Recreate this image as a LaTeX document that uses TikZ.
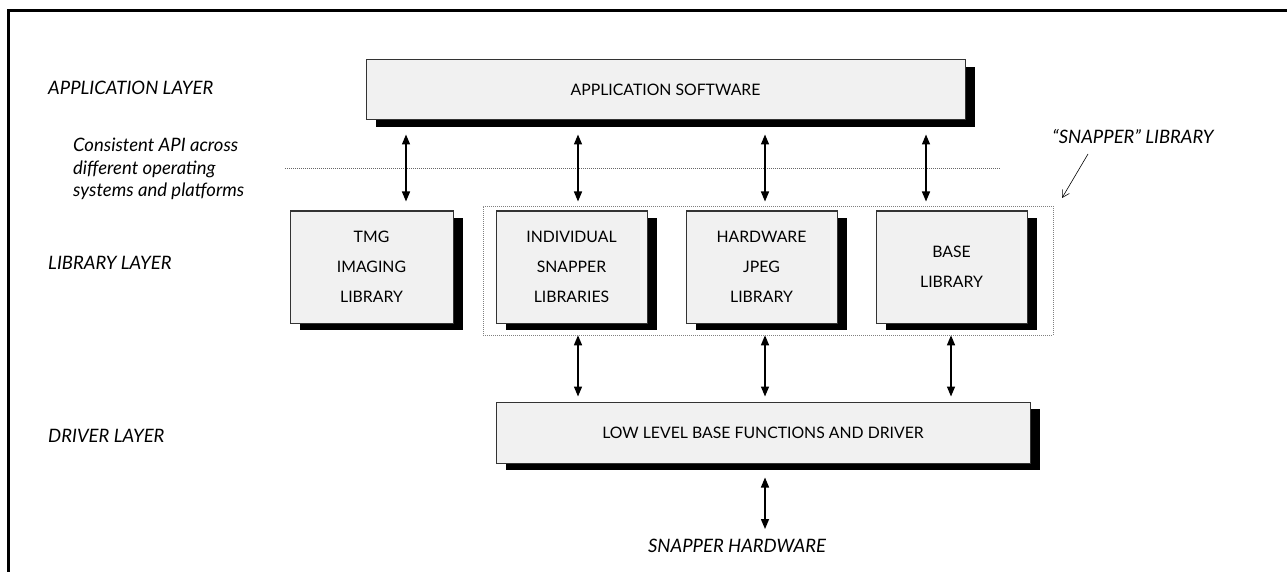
\documentclass[tikz,border=0pt]{standalone}
\usepackage{fontspec}
\setmainfont{Lato}
\usetikzlibrary{arrows.meta,shadows}
\definecolor{boxfill}{HTML}{F1F1F1}
\definecolor{boxline}{HTML}{333333}
\tikzset{
  blk/.style={draw=boxline, line width=1pt, fill=boxfill, inner sep=0pt,
    align=center, font=\fontsize{15.8}{30}\selectfont,
    general shadow={fill=black, shadow xshift=10pt, shadow yshift=-7pt}},
  dbl/.style={line width=1.4pt, {Triangle[length=10pt,width=8pt]}-{Triangle[length=10pt,width=8pt]}},
  lbl/.style={anchor=west, inner sep=0pt, font=\fontsize{18.5}{22.5}\selectfont\itshape, align=left},
  ilbl/.style={inner sep=0pt, font=\fontsize{18.5}{22}\selectfont\itshape},
}
\begin{document}
\begin{tikzpicture}[x=1pt,y=-1pt]
\useasboundingbox (0,0) rectangle (1287,572);
% frame
\draw[line width=3pt] (1287,10.5) -- (8,10.5) -- (8,572);
% dotted separator
\coordinate (sepL) at (285,168);
\coordinate (sepR) at (1000,168);
\draw[gray!80!black, line width=0.6pt, dash pattern=on 1pt off 1pt] (sepL) -- (sepR);
% boxes
\node[blk, minimum width=599pt, minimum height=60pt] (app) at (665.5,90) {APPLICATION SOFTWARE};
\node[blk, minimum width=163pt, minimum height=112pt] (tmg) at (371.5,267) {TMG\\IMAGING\\LIBRARY};
\node[blk, minimum width=151pt, minimum height=112pt] (ind) at (571.5,267) {INDIVIDUAL\\SNAPPER\\LIBRARIES};
\node[blk, minimum width=151pt, minimum height=112pt] (hw) at (761.5,267) {HARDWARE\\JPEG\\LIBRARY};
\node[blk, minimum width=151pt, minimum height=112pt] (base) at (951.5,267) {BASE\\LIBRARY};
\node[blk, minimum width=534pt, minimum height=61pt] (drv) at (763,432.5) {LOW LEVEL BASE FUNCTIONS AND DRIVER};
% snapper library group
\node[draw=gray, line width=0.6pt, dash pattern=on 1pt off 1pt, minimum width=570pt, minimum height=129pt, inner sep=0pt] (grp) at (768,270.5) {};
% labels
\node[lbl] (lapp) at (48,88) {APPLICATION LAYER};
\node[lbl] (lapi) at (73,169) {Consistent API across\\different operating\\systems and platforms};
\node[lbl] (llib) at (48,263) {LIBRARY LAYER};
\node[lbl] (ldrv) at (48,436) {DRIVER LAYER};
\node[ilbl] (snl) at (1133,137) {“SNAPPER” LIBRARY};
\node[ilbl] (shw) at (737,546) {SNAPPER HARDWARE};
% arrow columns
\coordinate (c1) at (406,0);
\coordinate (c2) at (578,0);
\coordinate (c3) at (765,0);
\coordinate (c4) at (926,0);
\coordinate (c5) at (951,0);
% application <-> libraries
\draw[dbl] ([yshift=-14pt]app.south -| c1) -- ([yshift=9pt]tmg.north -| c1);
\draw[dbl] ([yshift=-14pt]app.south -| c2) -- ([yshift=9pt]ind.north -| c2);
\draw[dbl] ([yshift=-14pt]app.south -| c3) -- ([yshift=9pt]hw.north -| c3);
\draw[dbl] ([yshift=-14pt]app.south -| c4) -- ([yshift=9pt]base.north -| c4);
% libraries <-> driver
\draw[dbl] (grp.south -| c2) -- ([yshift=5pt]drv.north -| c2);
\draw[dbl] (grp.south -| c3) -- ([yshift=5pt]drv.north -| c3);
\draw[dbl] (grp.south -| c5) -- ([yshift=5pt]drv.north -| c5);
% driver <-> hardware
\draw[dbl] ([yshift=-14pt]drv.south -| c3) -- ([yshift=10pt]shw.north -| c3);
% snapper library pointer
\coordinate (ps) at (1088,154);
\coordinate (pt) at (1062,198);
\draw[line width=0.6pt, -{Straight Barb[length=7pt,width=8pt]}] (ps) -- (pt);
\end{tikzpicture}
\end{document}
